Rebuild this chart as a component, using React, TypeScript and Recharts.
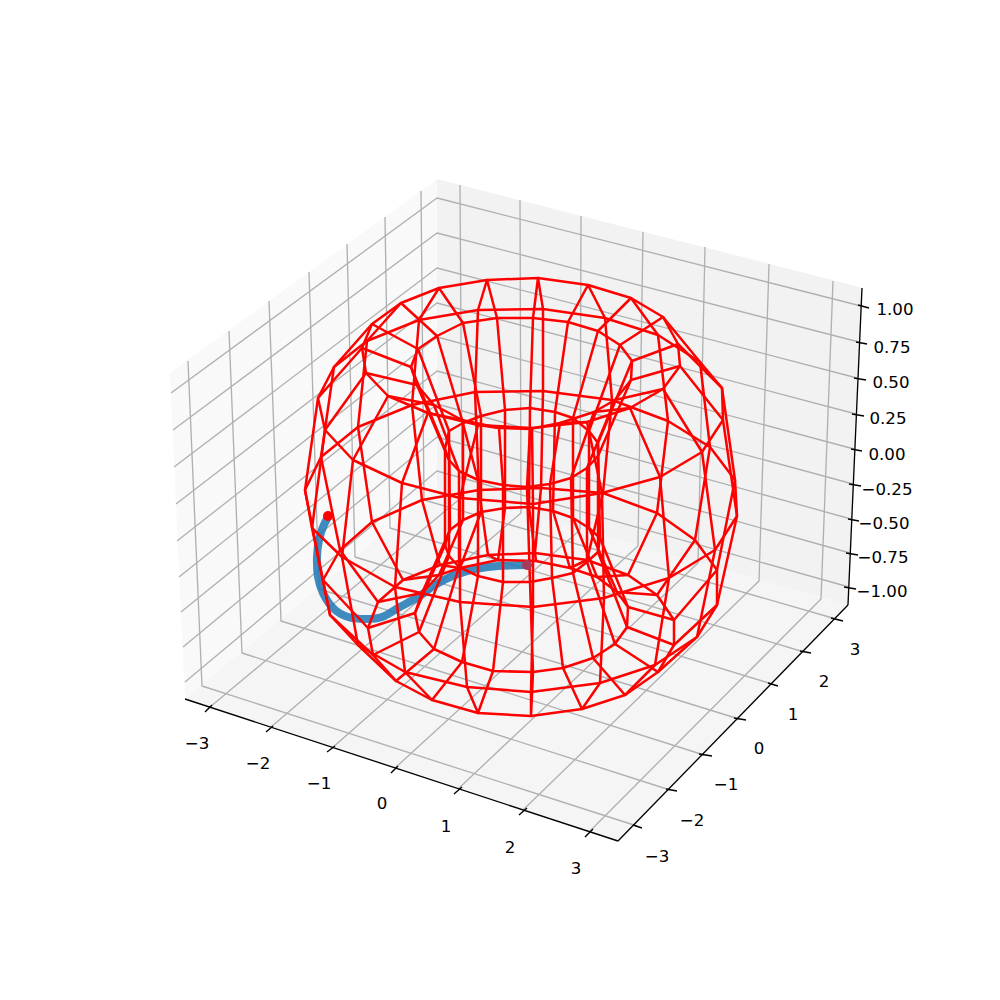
import React from 'react';
import { ComposedChart, XAxis, YAxis, Line, Area } from 'recharts';

type Pt = [number, number];

// wireframe rings (19 vertices each, same column order)
const ringEquator: Pt[] = [[543,391],[612,400],[668,421],[710,447],[735,480],[737,516],[715,550],[669,578],[604,598],[533,607],[460,602],[395,587],[342,557],[312,528],[305,490],[321,457],[358,427],[412,405],[475,392]];
const ringUpperOuter: Pt[] = [[543,309],[605,318],[658,335],[700,362],[722,388],[723,420],[702,452],[660,477],[602,493],[533,504],[460,498],[402,483],[353,460],[325,430],[318,398],[334,367],[367,341],[419,320],[478,310]];
const ringCrown: Pt[] = [[538,278],[588,285],[631,298],[663,317],[678,344],[680,366],[663,389],[630,408],[587,422],[532,428],[478,425],[428,413],[388,396],[366,373],[362,348],[372,324],[401,303],[439,288],[487,280]];
const ringUpperInner: Pt[] = [[533,318],[568,322],[598,331],[620,345],[632,361],[631,380],[615,400],[594,412],[560,423],[530,429],[499,428],[462,420],[434,405],[417,385],[411,367],[418,349],[437,336],[463,323],[497,318]];
const ringHoleUpper: Pt[] = [[530,408],[555,412],[573,418],[589,431],[598,443],[598,456],[587,468],[571,478],[550,484],[527,487],[503,485],[478,480],[459,471],[449,460],[445,449],[449,431],[463,423],[481,416],[505,410]];
const ringHoleLower: Pt[] = [[529,507],[553,511],[573,518],[589,528],[600,538],[598,552],[587,562],[573,573],[552,578],[530,582],[503,582],[478,576],[459,567],[449,556],[445,545],[450,530],[463,520],[481,512],[505,508]];
const ringLowerInner: Pt[] = [[536,561],[570,568],[597,577],[617,592],[628,607],[627,627],[615,644],[593,658],[563,668],[533,672],[493,671],[462,662],[434,649],[419,632],[415,613],[422,593],[439,575],[460,568],[498,560]];
const ringBase: Pt[] = [[535,553],[587,560],[628,575],[657,595],[674,620],[674,645],[658,672],[625,695],[582,709],[531,716],[478,713],[432,700],[396,681],[373,655],[368,628],[378,602],[403,580],[440,565],[488,555]];
const ringLowerOuter: Pt[] = [[541,488],[603,493],[657,513],[695,540],[717,570],[717,605],[697,637],[655,665],[600,683],[531,692],[467,687],[405,672],[358,645],[330,615],[323,580],[340,550],[372,522],[422,500],[479,490]];

const rings = [ringEquator, ringUpperOuter, ringCrown, ringUpperInner, ringHoleUpper, ringHoleLower, ringLowerInner, ringBase, ringLowerOuter];

// blue trajectory and its two end dots
const trajectory: Pt[] = [[527,565],[498,566],[475,569],[455,575],[435,585],[418,597],[398,608],[382,617],[365,619],[348,617],[333,608],[323,593],[318,577],[317,557],[319,540],[323,527],[328,517]];
const endDotBack: Pt[] = [[527,565]];
const endDotFront: Pt[] = [[328,516]];

// panes: x, top edge, bottom edge
const leftPane = [[170,373,373],[185,362,699],[437,179,489]];
const rightPane = [[437,179,489],[848,284,605],[862,288,288]];
const floorPane = [[185,699,699],[437,489,782],[618,540,841],[848,605,605]];

// grid lines
const xGrid: Pt[][] = [
  [[460,185],[462,497],[210,707]],
  [[520,200],[521,513],[271,727]],
  [[581,216],[580,530],[332,748]],
  [[643,232],[638,546],[395,768]],
  [[705,247],[698,563],[458,789]],
  [[769,264],[759,581],[523,810]],
  [[833,281],[821,599],[589,832]],
];
const yGrid: Pt[][] = [
  [[188,361],[202,686],[637,826]],
  [[229,331],[242,653],[670,790]],
  [[269,301],[281,621],[704,755]],
  [[309,272],[319,589],[739,719]],
  [[347,244],[355,557],[772,684]],
  [[385,217],[390,528],[804,652]],
  [[421,191],[424,500],[836,619]],
];
const zGrid: Pt[][] = [
  [[171,393],[437,198],[861,306]],
  [[173,430],[437,233],[859,342]],
  [[174,467],[437,268],[857,378]],
  [[176,504],[437,303],[856,414]],
  [[177,541],[437,337],[854,449]],
  [[179,577],[437,371],[853,484]],
  [[181,612],[437,404],[851,519]],
  [[183,647],[437,437],[850,553]],
  [[185,682],[437,471],[849,587]],
];

// axis lines and tick marks
const axisLines: Pt[][] = [
  [[185,699],[618,841]],
  [[618,841],[848,605]],
  [[848,605],[862,288]],
];
const xTicks: Pt[][] = [
  [[205,712],[212,705]], [[266,732],[273,726]], [[327,752],[335,746]], [[391,773],[398,766]],
  [[454,794],[462,787]], [[519,815],[527,808]], [[585,837],[593,829]],
];
const yTicks: Pt[][] = [
  [[633,825],[642,828]], [[666,789],[677,791]], [[699,754],[712,756]], [[734,718],[746,720]],
  [[768,683],[778,686]], [[800,651],[811,653]], [[831,618],[843,621]],
];
const zTicks: Pt[][] = [
  [[858,305],[869,308]], [[856,342],[867,344]], [[854,378],[866,380]], [[852,414],[864,416]],
  [[851,449],[862,451]], [[849,484],[861,486]], [[848,519],[859,521]], [[846,553],[858,555]], [[844,587],[856,589]],
];

const xLabels = ['−3','−2','−1','0','1','2','3'];
const xLabelPos: Pt[] = [[197,743],[258,763],[319,783],[382,803],[446,826],[510,847],[576,868]];
const yLabels = ['−3','−2','−1','0','1','2','3'];
const yLabelPos: Pt[] = [[657,856],[692,820],[726,784],[759,748],[793,714],[824,681],[855,649]];
const zLabels = ['−1.00','−0.75','−0.50','−0.25','0.00','0.25','0.50','0.75','1.00'];
const zLabelPos: Pt[] = [[882,591],[883,557],[884,523],[887,489],[887,454],[888,418],[891,382],[892,347],[895,309]];

const toRows = (pts: Pt[]) => pts.map(([x, y]) => ({ x, y }));
const closed = (pts: Pt[]) => [...pts, pts[0]];
const paneRows = (pane: number[][]) => pane.map(([x, top, bottom]) => ({ x, band: [top, bottom] }));

// one tube circle per column, closed
const tubes: Pt[][] = ringEquator.map((_, k) => rings.map(r => r[k]));

const labelRows = (labels: string[], pos: Pt[]) => labels.map((label, i) => ({ x: pos[i][0], y: pos[i][1], label }));
const tickLabels = [...labelRows(xLabels, xLabelPos), ...labelRows(yLabels, yLabelPos), ...labelRows(zLabels, zLabelPos)];

const poly = (key: string, pts: Pt[], stroke: string, width: number) => (
  <Line key={key} data={toRows(pts)} dataKey="y" stroke={stroke} strokeWidth={width} dot={false} activeDot={false} isAnimationActive={false} strokeLinejoin="round" />
);

const dotLine = (key: string, pts: Pt[], fill: string) => (
  <Line key={key} data={toRows(pts)} dataKey="y" stroke="none" activeDot={false} isAnimationActive={false} dot={{ r: 5, fill, stroke: 'none' }} />
);

export default function App() {
  return (
    <div style={{ position: 'absolute', left: 0, top: 0, width: 1000, height: 1000, background: '#fff' }}>
      <ComposedChart width={1000} height={1000} margin={{ top: 0, right: 0, bottom: 0, left: 0 }}>
        <XAxis type="number" dataKey="x" domain={[0, 1000]} hide />
        <YAxis type="number" domain={[0, 1000]} reversed hide />

        <Area data={paneRows(leftPane)} dataKey="band" type="linear" stroke="none" fill="#f9f9f9" fillOpacity={1} activeDot={false} isAnimationActive={false} />
        <Area data={paneRows(rightPane)} dataKey="band" type="linear" stroke="none" fill="#f2f2f2" fillOpacity={1} activeDot={false} isAnimationActive={false} />
        <Area data={paneRows(floorPane)} dataKey="band" type="linear" stroke="none" fill="#f5f5f5" fillOpacity={1} activeDot={false} isAnimationActive={false} />

        {xGrid.map((g, i) => poly(`xg${i}`, g, '#b0b0b0', 1.33))}
        {yGrid.map((g, i) => poly(`yg${i}`, g, '#b0b0b0', 1.33))}
        {zGrid.map((g, i) => poly(`zg${i}`, g, '#b0b0b0', 1.33))}

        {axisLines.map((g, i) => poly(`ax${i}`, g, '#000000', 1.33))}
        {[...xTicks, ...yTicks, ...zTicks].map((g, i) => poly(`tk${i}`, g, '#000000', 1.33))}

        <Line data={toRows(trajectory)} dataKey="y" type="natural" stroke="#1f77b4" strokeOpacity={0.85} strokeWidth={8} dot={false} activeDot={false} isAnimationActive={false} strokeLinejoin="round" />
        {dotLine('endBack', endDotBack, '#a83a5a')}
        {dotLine('endFront', endDotFront, '#ff0000')}

        {rings.map((r, i) => poly(`ring${i}`, closed(r), '#ff0000', 2.5))}
        {tubes.map((t, i) => poly(`tube${i}`, closed(t), '#ff0000', 2.5))}

        <Line
          data={tickLabels}
          dataKey="y"
          stroke="none"
          activeDot={false}
          isAnimationActive={false}
          dot={(p: any) => (
            <text key={p.index} x={p.cx} y={p.cy} textAnchor="middle" dominantBaseline="central" fontFamily="DejaVu Sans" fontSize={16.67} fill="#000">
              {p.payload.label}
            </text>
          )}
        />
      </ComposedChart>
    </div>
  );
}
